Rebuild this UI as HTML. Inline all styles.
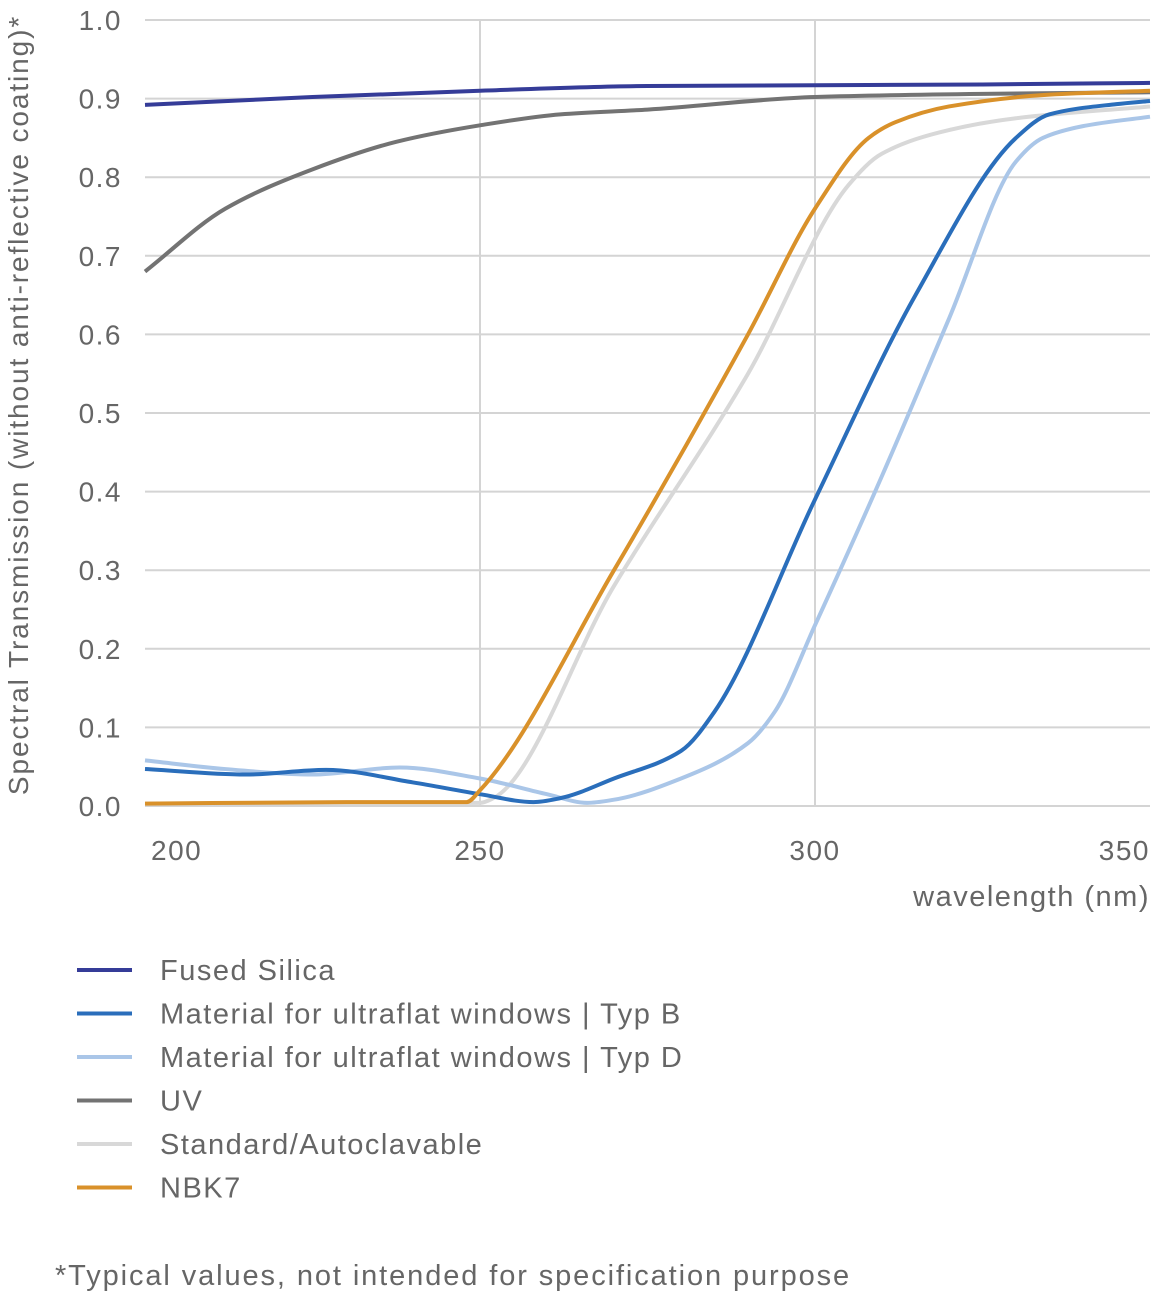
<!DOCTYPE html>
<html><head><meta charset="utf-8"><style>
body{margin:0;background:#fff;width:1152px;height:1307px;overflow:hidden;font-family:"Liberation Sans",sans-serif;}
svg text{font-family:"Liberation Sans",sans-serif;fill:#666;}
.sp{letter-spacing:1.5px;}
</style></head><body>
<svg id="chart" width="1152" height="1307" viewBox="0 0 1152 1307" xmlns="http://www.w3.org/2000/svg">
<g id="grid"></g>
<g id="series"></g>
<g id="axes"></g>
<text transform="translate(28,405) rotate(-90)" text-anchor="middle" font-size="28" style="letter-spacing:1.9px">Spectral Transmission (without anti-reflective coating)*</text>
<text x="1150" y="906" text-anchor="end" font-size="29" class="sp">wavelength (nm)</text>
<g id="legend"></g>
<text x="55" y="1285" font-size="29" style="letter-spacing:1.9px">*Typical values, not intended for specification purpose</text>
</svg>
<script>
const yTicks=[0,0.1,0.2,0.3,0.4,0.5,0.6,0.7,0.8,0.9,1.0];
const xTicks=[200,250,300,350];
const seriesNames=["Fused Silica","Material for ultraflat windows | Typ B","Material for ultraflat windows | Typ D","UV","Standard/Autoclavable","NBK7"];
const seriesColors=["#353c98","#2a6ebb","#aac6e8","#737373","#d8d8d8","#d9912a"];
const fusedX=[200,225,250,275,300,325,350];
const fusedY=[0.892,0.902,0.910,0.916,0.917,0.918,0.920];
const typBX=[200,215,227,240,250,258,262,270,280,285,300,315,330,335,345,350];
const typBY=[0.047,0.04,0.046,0.03,0.015,0.005,0.01,0.035,0.07,0.12,0.39,0.65,0.85,0.88,0.893,0.897];
const typDX=[200,212,225,238,250,260,266,270,280,290,294,300,310,320,330,334,340,350];
const typDY=[0.058,0.047,0.04,0.049,0.035,0.015,0.004,0.008,0.035,0.08,0.12,0.23,0.42,0.62,0.82,0.85,0.865,0.877];
const uvX=[200,212,225,237.5,250,262,275,300,325,350];
const uvY=[0.68,0.76,0.81,0.845,0.866,0.88,0.886,0.902,0.906,0.908];
const stdX=[200,230,250,252,270,290,305,310,320,330,350];
const stdY=[0.003,0.004,0.004,0.01,0.28,0.55,0.79,0.83,0.86,0.875,0.89];
const nbkX=[200,230,248,250,270,290,300,308,312,320,335,350];
const nbkY=[0.003,0.005,0.005,0.02,0.3,0.6,0.76,0.85,0.87,0.89,0.905,0.91];
const allX=[fusedX,typBX,typDX,uvX,stdX,nbkX];
const allY=[fusedY,typBY,typDY,uvY,stdY,nbkY];
const NS="http://www.w3.org/2000/svg";
const X0=145,X1=1150,Y0=806,Y1=20;
function sx(v){return X0+(v-200)/150*(X1-X0);}
function sy(v){return Y0-(v)*(Y0-Y1);}
function mk(t,a,p){const e=document.createElementNS(NS,t);for(const k in a)e.setAttribute(k,a[k]);p.appendChild(e);return e;}
const grid=document.getElementById('grid'),axes=document.getElementById('axes'),ser=document.getElementById('series'),leg=document.getElementById('legend');
yTicks.forEach(t=>{
 const l=mk('line',{x1:X0,x2:X1,y1:sy(t),y2:sy(t),stroke:'#d4d4d4','stroke-width':2},grid);
 
 
 const tx=mk('text',{x:122,y:sy(t)+10,'text-anchor':'end','font-size':28,class:'sp'},axes);
 tx.textContent=t.toFixed(1);
 
 
});
xTicks.forEach((t,i)=>{
 if(i>0&&i<xTicks.length-1){
  const l=mk('line',{x1:sx(t),x2:sx(t),y1:Y1,y2:Y0,stroke:'#d4d4d4','stroke-width':2},grid);
  
  
 }
 const anchor=i==0?'start':(i==xTicks.length-1?'end':'middle');
 const tx=mk('text',{x:sx(t)+(i==0?6:0),y:860,'text-anchor':anchor,'font-size':28,class:'sp'},axes);
 tx.textContent=t;
 
 
});
function path(xs,ys){
 const p=xs.map((x,i)=>[sx(x),sy(ys[i])]);
 const n=p.length,d=[],m=[];
 for(let i=0;i<n-1;i++)d.push((p[i+1][1]-p[i][1])/(p[i+1][0]-p[i][0]));
 for(let i=0;i<n;i++){
  if(i==0)m.push(d[0]);else if(i==n-1)m.push(d[n-2]);
  else if(d[i-1]*d[i]<=0)m.push(0);
  else{const h0=p[i][0]-p[i-1][0],h1=p[i+1][0]-p[i][0];m.push(3*(h0+h1)/((2*h1+h0)/d[i-1]+(h1+2*h0)/d[i]));}
 }
 let s='M'+p[0][0]+','+p[0][1];
 for(let i=0;i<n-1;i++){
  const h=(p[i+1][0]-p[i][0])/3;
  s+=' C'+(p[i][0]+h)+','+(p[i][1]+m[i]*h)+' '+(p[i+1][0]-h)+','+(p[i+1][1]-m[i+1]*h)+' '+p[i+1][0]+','+p[i+1][1];
 }
 return s;
}
const order=[4,3,0,2,1,5];
order.forEach(i=>{
 const p=mk('path',{d:path(allX[i],allY[i]),fill:'none',stroke:seriesColors[i],'stroke-width':4,'stroke-linejoin':'round'},ser);
 
 
});
seriesNames.forEach((n,i)=>{
 const y=970+i*43.5;
 const l=mk('line',{x1:77,x2:132,y1:y,y2:y,stroke:seriesColors[i],'stroke-width':4},leg);
 
 
 const t=mk('text',{x:160,y:y+10,'font-size':29,class:'sp'},leg);
 t.textContent=n;
 
 
});
</script>
</body></html>
